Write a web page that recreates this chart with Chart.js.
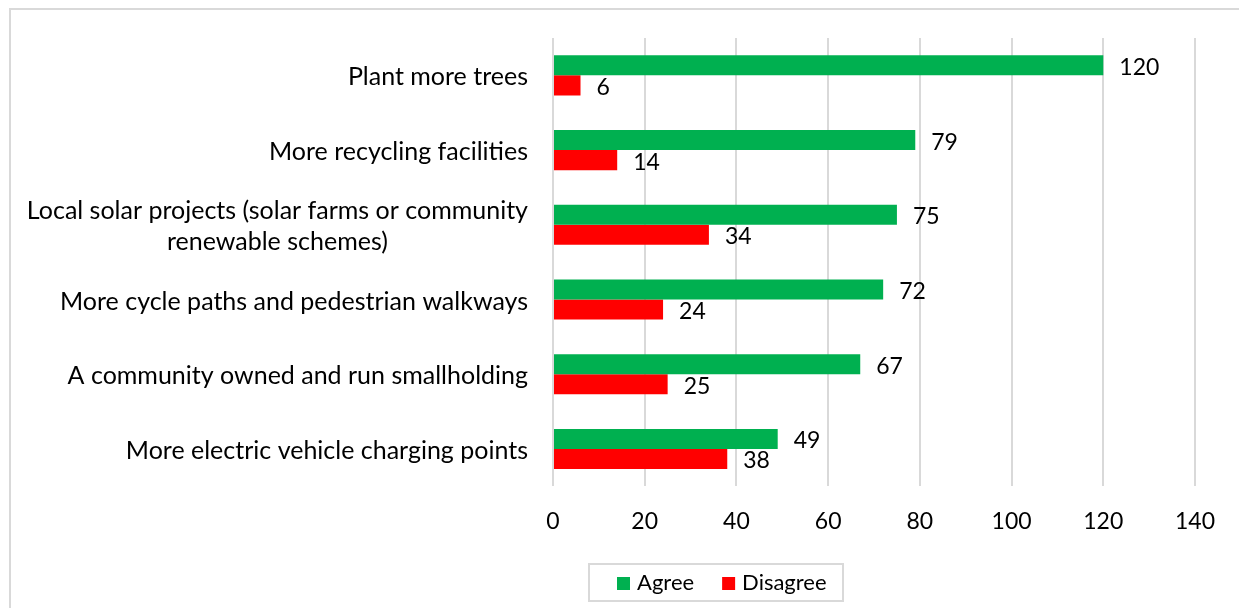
<!DOCTYPE html>
<html>
<head>
<meta charset="utf-8">
<script src="https://cdn.jsdelivr.net/npm/chart.js@4"></script>
<style>
html, body { margin: 0; padding: 0; background: #fff; }
</style>
</head>
<body>
<canvas id="chart" width="1239" height="608"></canvas>
<script>
// chart data
const categories = [
    "Plant more trees",
    "More recycling facilities",
    ["Local solar projects (solar farms or community", "renewable schemes)"],
    "More cycle paths and pedestrian walkways",
    "A community owned and run smallholding",
    "More electric vehicle charging points"
];
const agree = [120, 79, 75, 72, 67, 49];
const disagree = [6, 14, 34, 24, 25, 38];
const seriesNames = ["Agree", "Disagree"];
const seriesColors = ["#00B050", "#FF0000"];
const xMin = 0, xMax = 140, xStep = 20;

const FONT = "Lato, sans-serif";

// white background + light grey frame like the office chart
const framePlugin = {
    id: 'frame',
    beforeDraw(chart) {
        const c = chart.ctx;
        c.save();
        c.fillStyle = '#fff';
        c.fillRect(0, 0, chart.width, chart.height);
        c.strokeStyle = '#d9d9d9';
        c.lineWidth = 2;
        c.strokeRect(10, 9, chart.width + 10, chart.height + 10);
        c.restore();
    }
};

// category labels: block right aligned, lines centred inside the block
const catLabelPlugin = {
    id: 'catLabels',
    afterDraw(chart) {
        const c = chart.ctx;
        const yScale = chart.scales.y;
        const right = chart.chartArea.left - 25;
        c.save();
        c.font = "25px " + FONT;
        c.fillStyle = '#000';
        c.textAlign = 'center';
        c.textBaseline = 'middle';
        categories.forEach((lab, i) => {
            const lines = Array.isArray(lab) ? lab : [lab];
            const w = Math.max(...lines.map(l => c.measureText(l).width));
            const y = yScale.getPixelForValue(i) + 2;
            lines.forEach((l, k) => {
                c.fillText(l, right - w / 2, y + (k - (lines.length - 1) / 2) * 31);
            });
        });
        c.restore();
    }
};

// value labels at the end of each bar
const valueLabelPlugin = {
    id: 'valueLabels',
    afterDatasetsDraw(chart) {
        const c = chart.ctx;
        c.save();
        c.font = "23px " + FONT;
        c.fillStyle = '#000';
        c.textAlign = 'left';
        c.textBaseline = 'middle';
        chart.data.datasets.forEach((ds, di) => {
            chart.getDatasetMeta(di).data.forEach((el, i) => {
                c.fillText(ds.data[i], el.x + 16, el.y + 2);
            });
        });
        c.restore();
    }
};

// boxed legend under the plot
const legendPlugin = {
    id: 'boxLegend',
    afterDraw(chart) {
        const c = chart.ctx;
        c.save();
        c.strokeStyle = '#d9d9d9';
        c.lineWidth = 2;
        c.strokeRect(589, 564, 254, 37);
        c.font = "22px " + FONT;
        c.textBaseline = 'middle';
        c.textAlign = 'left';
        let x = 617;
        seriesNames.forEach((name, i) => {
            c.fillStyle = seriesColors[i];
            c.fillRect(x, 577, 13, 13);
            c.fillStyle = '#000';
            c.fillText(name, x + 20, 583);
            x += 20 + c.measureText(name).width + 28;
        });
        c.restore();
    }
};

new Chart(document.getElementById('chart'), {
    type: 'bar',
    data: {
        labels: categories,
        datasets: [
            { label: seriesNames[0], data: agree, backgroundColor: seriesColors[0] },
            { label: seriesNames[1], data: disagree, backgroundColor: seriesColors[1] }
        ]
    },
    options: {
        indexAxis: 'y',
        responsive: false,
        animation: false,
        devicePixelRatio: 1,
        datasets: { bar: { categoryPercentage: 0.536, barPercentage: 1.0 } },
        layout: { padding: { left: 553, top: 38, right: 44, bottom: 52 } },
        plugins: {
            legend: { display: false },
            tooltip: { enabled: false }
        },
        scales: {
            y: { display: false },
            x: {
                min: xMin,
                max: xMax,
                ticks: {
                    stepSize: xStep,
                    color: '#000',
                    padding: 21,
                    font: { family: FONT, size: 23 }
                },
                grid: { color: '#d9d9d9', lineWidth: 2, drawTicks: false },
                border: { display: false }
            }
        }
    },
    plugins: [framePlugin, catLabelPlugin, valueLabelPlugin, legendPlugin]
});
</script>
</body>
</html>
